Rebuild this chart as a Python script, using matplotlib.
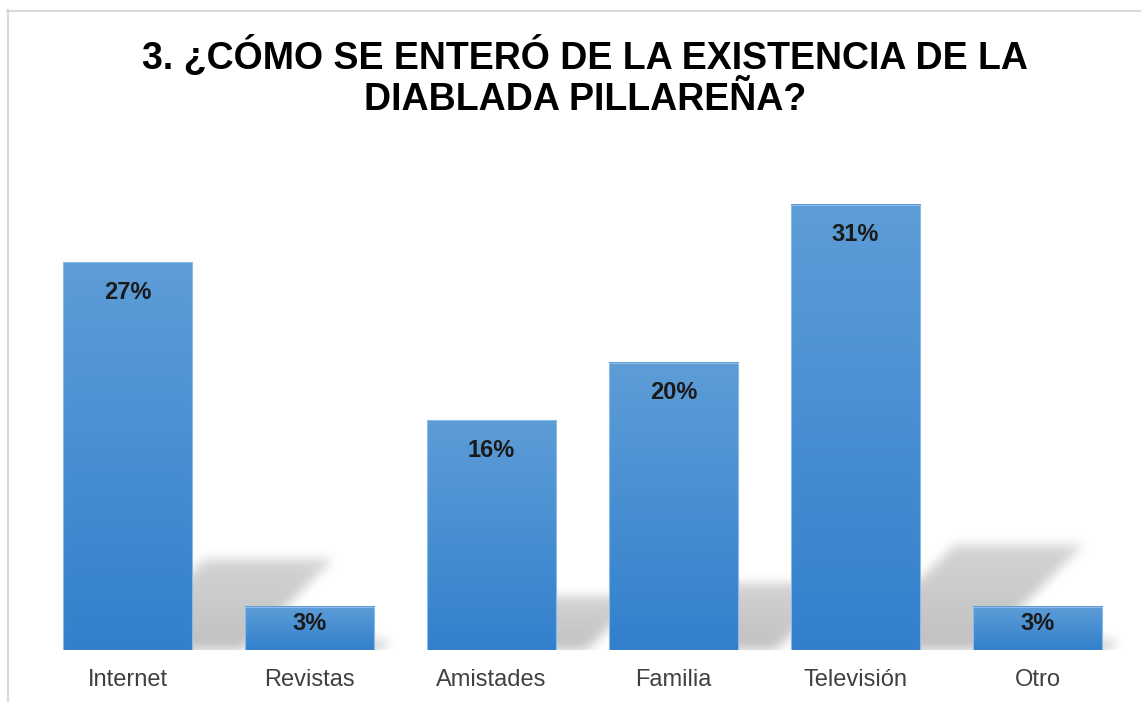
import numpy as np
import matplotlib
matplotlib.use('Agg')
import matplotlib.pyplot as plt
from matplotlib.lines import Line2D

categories = ["Internet", "Revistas", "Amistades", "Familia", "Televisión", "Otro"]
values = [27, 3, 16, 20, 31, 3]
title = "3. ¿CÓMO SE ENTERÓ DE LA EXISTENCIA DE LA\nDIABLADA PILLAREÑA?"

plt.rcParams['font.family'] = ['Liberation Sans', 'DejaVu Sans']

W, H = 1141, 702
fig = plt.figure(figsize=(W / 100, H / 100), dpi=100)
ax_left, ax_right = 36.5, 1128.5
base_px, top_px = 650.0, 147.4
ax = fig.add_axes([ax_left / W, (H - base_px) / H,
                   (ax_right - ax_left) / W, (base_px - top_px) / H])
n = len(categories)
ymax = 35
ax.set_xlim(-0.5, n - 0.5)
ax.set_ylim(0, ymax)
bw = 0.709
x = np.arange(n)

# ---- perspective shadows (decoration derived from bar values) ----
ppx = (ax_right - ax_left) / n
ppy = (base_px - top_px) / ymax
nx = int(round(ax_right - ax_left))
ny = int(round(base_px - top_px))
gx = np.arange(nx) + 0.5
gy = np.arange(ny) + 0.5
GX, GY = np.meshgrid(gx, gy)
sh = np.zeros((ny, nx))
for xi, v in zip(x, values):
    hpx = v * ppy
    cx = (xi + 0.5) * ppx
    x0 = cx - bw * ppx / 2
    x1 = cx + bw * ppx / 2
    o = 0.13 * hpx
    d = 0.235 * hpx
    m = (GY <= d) & (GX >= x0 + o + GY) & (GX <= x1 + o + GY)
    fade = 1 - 0.3 * np.clip(GY / d, 0, 1)
    sh = np.maximum(sh, m * fade)


def gblur(a, s):
    r = int(3 * s)
    k = np.exp(-0.5 * (np.arange(-r, r + 1) / s) ** 2)
    k /= k.sum()
    a = np.apply_along_axis(lambda c: np.convolve(c, k, mode='same'), 0, a)
    a = np.apply_along_axis(lambda c: np.convolve(c, k, mode='same'), 1, a)
    return a


sh = gblur(sh, 5.5)
rgba = np.zeros((ny, nx, 4))
rgba[..., 3] = sh * 0.25
ax.imshow(rgba, extent=(-0.5, n - 0.5, 0, ymax), origin='lower',
          aspect='auto', zorder=1, interpolation='bilinear')

# ---- bars with vertical gradient ----
bars = ax.bar(x, values, bw, color='none', edgecolor='#8dbbe8',
              linewidth=0.8, zorder=3)
top_c = np.array([93, 157, 215]) / 255
bot_c = np.array([50, 128, 204]) / 255
t = np.linspace(0, 1, 256)[:, None]
grad = (bot_c[None, :] * (1 - t) + top_c[None, :] * t)[:, None, :]
for b in bars:
    ax.imshow(grad, extent=(b.get_x(), b.get_x() + b.get_width(), 0, b.get_height()),
              origin='lower', aspect='auto', zorder=2, interpolation='bilinear')

# ---- value labels ----
for xi, v in zip(x, values):
    hpx = v * ppy
    off_px = min(30.0, 0.39 * hpx)
    ax.annotate(f"{v}%", (xi, v), xytext=(0, -off_px * 0.72), textcoords='offset points',
                ha='center', va='center', fontsize=17, fontweight='bold',
                color='#1a1a1a', zorder=4)

ax.set_xticks(x, categories, fontsize=17, color='#404040')
ax.tick_params(axis='x', length=0, pad=13.5)
ax.set_yticks([])
for s in ax.spines.values():
    s.set_visible(False)
ax.set_facecolor('none')

fig.text(585 / W, (H - 77) / H, title, ha='center', va='center',
         fontsize=27, fontweight='bold', color='#000000', linespacing=1.15)

# ---- outer frame ----
fig.add_artist(Line2D([7 / W, 1], [1 - 10.5 / H, 1 - 10.5 / H],
                      transform=fig.transFigure, color='#d9d9d9', lw=1.5))
fig.add_artist(Line2D([7.5 / W, 7.5 / W], [0, 1 - 10 / H],
                      transform=fig.transFigure, color='#d9d9d9', lw=1.5))

fig.savefig('out.png', dpi=100)
